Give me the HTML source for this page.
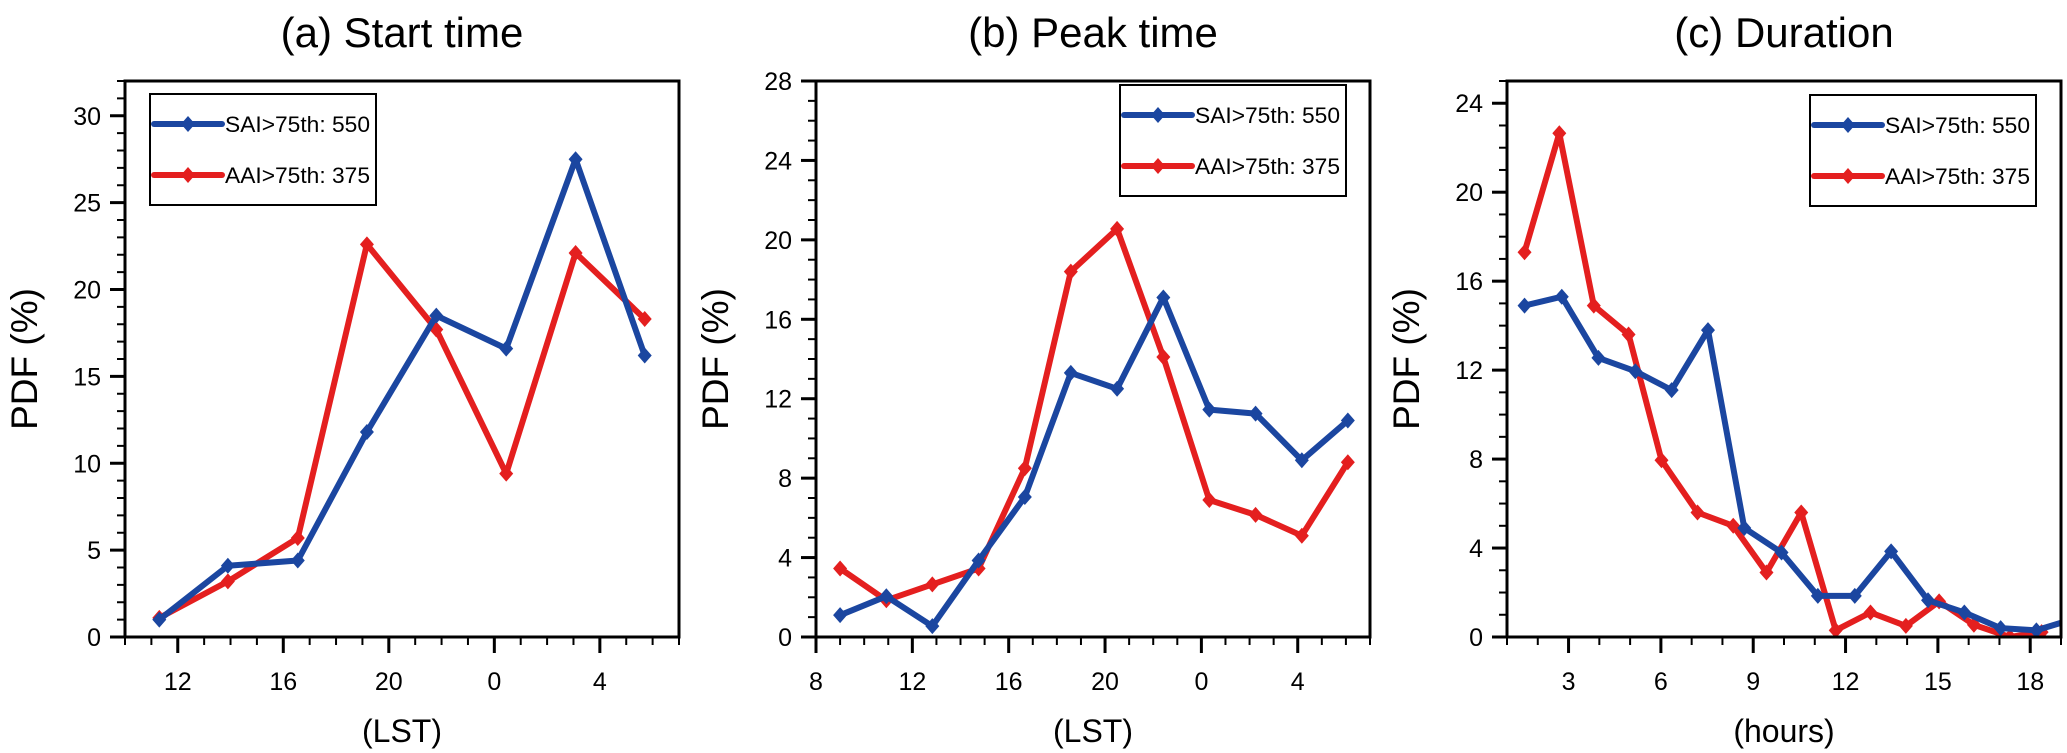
<!DOCTYPE html>
<html><head><meta charset="utf-8"><style>
html,body{margin:0;padding:0;background:#fff;}
svg{display:block;font-family:"Liberation Sans",Arial,sans-serif;}
</style></head><body>
<svg id="fig" width="2067" height="753" viewBox="0 0 2067 753" xmlns="http://www.w3.org/2000/svg"></svg>
<script>
// Panel (a) Start time
const aXBlue = [11.3, 13.9, 16.55, 19.17, 21.8, 24.45, 27.08, 29.7];
const aBlue = [1.0, 4.1, 4.4, 11.8, 18.5, 16.6, 27.5, 16.2];
const aRed = [1.1, 3.2, 5.7, 22.6, 17.7, 9.4, 22.1, 18.3];
const aXTickVals = [12, 16, 20, 24, 28];
const aXTickLabels = ["12", "16", "20", "0", "4"];
const aYTicks = [0, 5, 10, 15, 20, 25, 30];
// Panel (b) Peak time
const bX = [9, 10.92, 12.83, 14.75, 16.67, 18.58, 20.5, 22.42, 24.33, 26.25, 28.17, 30.08];
const bBlue = [1.1, 2.05, 0.55, 3.85, 7.05, 13.3, 12.5, 17.1, 11.45, 11.25, 8.9, 10.9];
const bRed = [3.45, 1.85, 2.65, 3.45, 8.5, 18.4, 20.55, 14.1, 6.9, 6.15, 5.1, 8.8];
const bXTickVals = [8, 12, 16, 20, 24, 28];
const bXTickLabels = ["8", "12", "16", "20", "0", "4"];
const bYTicks = [0, 4, 8, 12, 16, 20, 24, 28];
// Panel (c) Duration
const cXRed = [1.57, 2.7, 3.82, 4.95, 6.02, 7.19, 8.35, 9.43, 10.56, 11.68, 12.81, 13.96, 15.04, 16.17, 17.34, 18.37];
const cRed = [17.3, 22.65, 14.9, 13.6, 7.95, 5.6, 5.0, 2.9, 5.6, 0.3, 1.1, 0.5, 1.6, 0.55, 0.0, 0.22];
const cXBlue = [1.57, 2.78, 3.97, 5.17, 6.35, 7.53, 8.71, 9.92, 11.1, 12.3, 13.48, 14.68, 15.86, 17.04, 18.2, 19.27];
const cBlue = [14.9, 15.3, 12.55, 11.95, 11.1, 13.8, 4.9, 3.8, 1.85, 1.85, 3.85, 1.65, 1.1, 0.4, 0.3, 0.75];
const cXTickVals = [3, 6, 9, 12, 15, 18];
const cXTickLabels = ["3", "6", "9", "12", "15", "18"];
const cYTicks = [0, 4, 8, 12, 16, 20, 24];

const BLUE = "#1b46a0", RED = "#e41f1f";
const NS = "http://www.w3.org/2000/svg";
const svg = document.getElementById("fig");
function mk(tag, attrs, parent) {
  const e = document.createElementNS(NS, tag);
  for (const k in attrs) e.setAttribute(k, attrs[k]);
  (parent || svg).appendChild(e);
  return e;
}

function panel(cfg) {
  const g = mk("g", {});
  
  
  const {L, R, T, B, x0, x1, y0, y1} = cfg;
  const sx = v => L + (v - x0) / (x1 - x0) * (R - L);
  const sy = v => B - (v - y0) / (y1 - y0) * (B - T);
  const clipId = cfg.id + "-clip";
  const cp = mk("clipPath", {id: clipId}, g);
  mk("rect", {x: L, y: T, width: R - L, height: B - T}, cp);

  // title
  const t = mk("text", {x: (L + R) / 2, y: 47, "font-size": 42, "text-anchor": "middle"}, g);
  t.textContent = cfg.title;
  
  

  // minor y ticks
  for (let v = y0; v <= y1 + 1e-9; v += cfg.yMinor) {
    const mt = mk("line", {x1: L - 8, x2: L, y1: sy(v), y2: sy(v), stroke: "#000", "stroke-width": 2}, g);
    
    
  }
  cfg.yTicks.forEach(v => {
    const tk = mk("line", {x1: L - 15, x2: L, y1: sy(v), y2: sy(v), stroke: "#000", "stroke-width": 3}, g);
    
    
    const lb = mk("text", {x: L - 24, y: sy(v) + 9, "font-size": 25, "text-anchor": "end"}, g);
    lb.textContent = String(v);
    
    
  });
  // minor x ticks
  for (let v = x0; v <= x1 + 1e-9; v += 1) {
    const mt = mk("line", {x1: sx(v), x2: sx(v), y1: B, y2: B + 8, stroke: "#000", "stroke-width": 2}, g);
    
    
  }
  cfg.xTickVals.forEach((v, i) => {
    const tk = mk("line", {x1: sx(v), x2: sx(v), y1: B, y2: B + 16, stroke: "#000", "stroke-width": 3}, g);
    
    
    const lb = mk("text", {x: sx(v), y: 690, "font-size": 25, "text-anchor": "middle"}, g);
    lb.textContent = cfg.xTickLabels[i];
    
    
  });
  // axis titles
  const xt = mk("text", {x: (L + R) / 2, y: 742, "font-size": 32, "text-anchor": "middle"}, g);
  xt.textContent = cfg.xTitle;
  
  
  const yx = L - 88, yy = (T + B) / 2;
  const yt = mk("text", {x: yx, y: yy, "font-size": 37, "text-anchor": "middle", transform: `rotate(-90 ${yx} ${yy})`}, g);
  yt.textContent = "PDF (%)";
  
  

  // series
  const series = [
    {name: "series-aai", xs: cfg.xr, ys: cfg.red, color: RED},
    {name: "series-sai", xs: cfg.xb, ys: cfg.blue, color: BLUE}
  ];
  if (cfg.blueFirst) series.reverse();
  series.forEach(s => {
    const sg = mk("g", {"clip-path": `url(#${clipId})`}, g);
    
    
    const pts = s.ys.map((v, i) => `${sx(s.xs[i]).toFixed(1)},${sy(v).toFixed(1)}`).join(" ");
    const pl = mk("polyline", {points: pts, fill: "none", stroke: s.color, "stroke-width": 6, "stroke-linejoin": "round"}, sg);
    
    
    s.ys.forEach((v, i) => {
      const cx = sx(s.xs[i]), cy = sy(v);
      const d = mk("polygon", {points: `${cx},${cy - 8} ${cx + 7},${cy} ${cx},${cy + 8} ${cx - 7},${cy}`, fill: s.color}, sg);
      
      
    });
  });

  // frame
  const fr = mk("rect", {x: L, y: T, width: R - L, height: B - T, fill: "none", stroke: "#000", "stroke-width": 3}, g);
  
  

  // legend
  const lg = mk("g", {}, g);
  
  
  const lx = cfg.legX, ly = cfg.legY;
  mk("rect", {x: lx, y: ly, width: 226, height: 111, fill: "#fff", stroke: "#000", "stroke-width": 2}, lg);
  [["SAI>75th: 550", BLUE, 30], ["AAI>75th: 375", RED, 81]].forEach(([txt, col, dy]) => {
    const e = mk("g", {}, lg);
    
    
    mk("line", {x1: lx + 4, x2: lx + 72, y1: ly + dy, y2: ly + dy, stroke: col, "stroke-width": 6, "stroke-linecap": "round"}, e);
    const cx = lx + 38, cy = ly + dy;
    mk("polygon", {points: `${cx},${cy - 8} ${cx + 7},${cy} ${cx},${cy + 8} ${cx - 7},${cy}`, fill: col}, e);
    const tx = mk("text", {x: lx + 75, y: ly + dy + 8, "font-size": 22.5, textLength: 145, lengthAdjust: "spacingAndGlyphs"}, e);
    tx.textContent = txt;
  });
}

panel({id: "panel-start-time", title: "(a) Start time", xTitle: "(LST)", L: 125, R: 679, T: 81, B: 637,
  x0: 10, x1: 31, y0: 0, y1: 32, yMinor: 1, yTicks: aYTicks, xTickVals: aXTickVals, xTickLabels: aXTickLabels,
  xb: aXBlue, xr: aXBlue, blue: aBlue, red: aRed, blueFirst: false, legX: 150, legY: 94});
panel({id: "panel-peak-time", title: "(b) Peak time", xTitle: "(LST)", L: 816, R: 1370, T: 81, B: 637,
  x0: 8, x1: 31, y0: 0, y1: 28, yMinor: 1, yTicks: bYTicks, xTickVals: bXTickVals, xTickLabels: bXTickLabels,
  xb: bX, xr: bX, blue: bBlue, red: bRed, blueFirst: false, legX: 1120, legY: 85});
panel({id: "panel-duration", title: "(c) Duration", xTitle: "(hours)", L: 1507, R: 2061, T: 81, B: 637,
  x0: 1, x1: 19, y0: 0, y1: 25, yMinor: 1, yTicks: cYTicks, xTickVals: cXTickVals, xTickLabels: cXTickLabels,
  xb: cXBlue, xr: cXRed, blue: cBlue, red: cRed, blueFirst: false, legX: 1810, legY: 95});
</script>
</body></html>
